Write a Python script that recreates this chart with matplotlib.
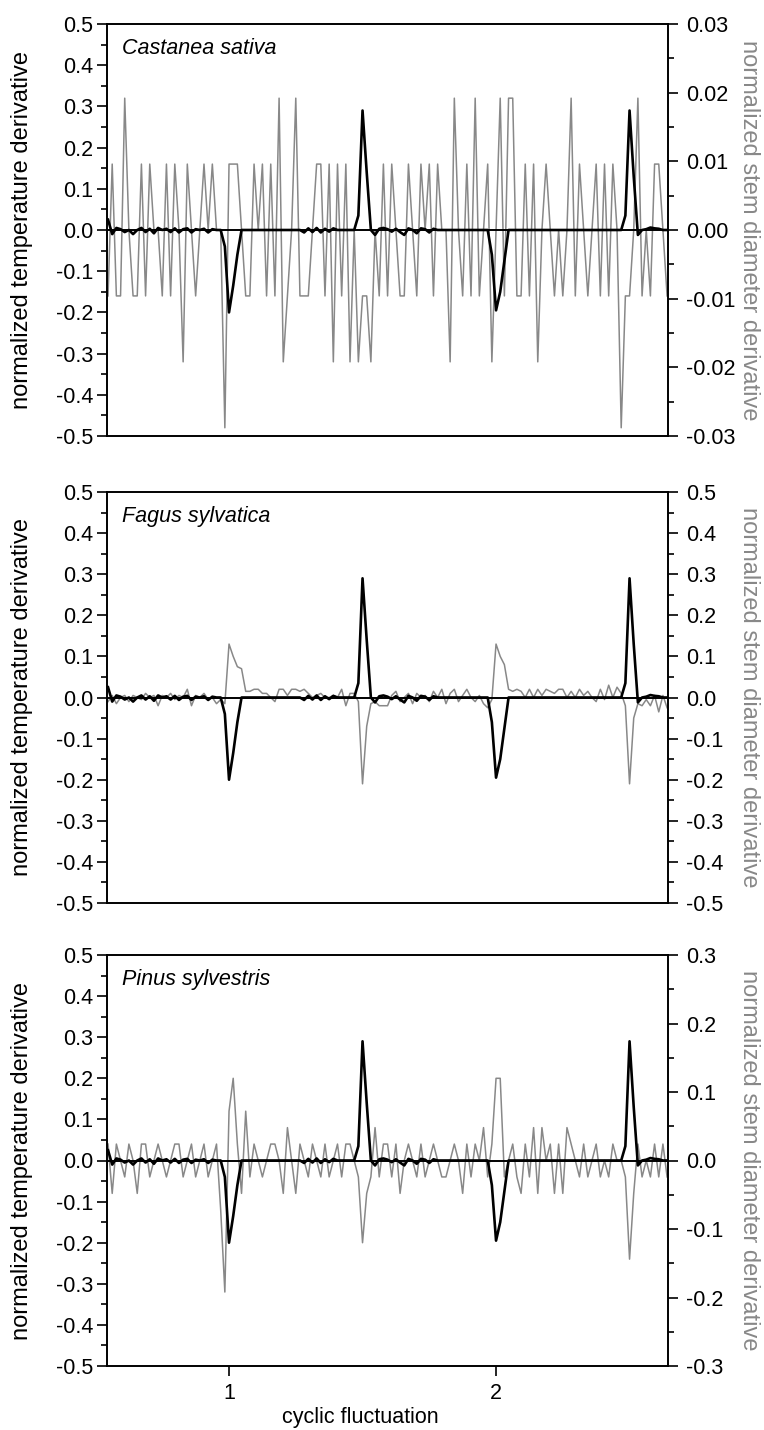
import numpy as np
import matplotlib.pyplot as plt
from matplotlib.ticker import MultipleLocator, FormatStrFormatter

plt.rcParams['font.family'] = ['Liberation Sans', 'DejaVu Sans']
plt.rcParams['axes.unicode_minus'] = False

# sampling grid: 64 samples per cycle
x_start = 0.546875
x_step = 1 / 64

# normalized temperature derivative (same in every panel)
temp_deriv = [
    0.025, -0.01, 0.005, 0.002, -0.005, 0.0, -0.01, 0.0, 0.005, -0.005,
    0.003, -0.008, 0.005, 0.0, 0.003, -0.005, 0.004, -0.006, 0.002, 0.004,
    -0.006, 0.002, 0.0, 0.003, -0.006, 0.002, 0.0, 0.0, -0.04, -0.2,
    -0.135, -0.06, 0.0, 0.0, 0.0, 0.0, 0.0, 0.0, 0.0, 0.0,
    0.0, 0.0, 0.0, 0.0, 0.0, 0.0, 0.0, -0.006, 0.004, -0.005,
    0.005, -0.006, 0.003, -0.004, 0.004, 0.0, 0.0, 0.0, 0.0, 0.0,
    0.035, 0.29, 0.14, 0.0, -0.012, 0.003, 0.005, 0.002, -0.004, 0.003,
    -0.005, -0.012, 0.004, 0.0, -0.008, 0.004, 0.002, -0.006, 0.003, 0.0,
    0.0, 0.0, 0.0, 0.0, 0.0, 0.0, 0.0, 0.0, 0.0, 0.0,
    0.0, 0.0, -0.06, -0.195, -0.15, -0.075, 0.0, 0.0, 0.0, 0.0,
    0.0, 0.0, 0.0, 0.0, 0.0, 0.0, 0.0, 0.0, 0.0, 0.0,
    0.0, 0.0, 0.0, 0.0, 0.0, 0.0, 0.0, 0.0, 0.0, 0.0,
    0.0, 0.0, 0.0, 0.0, 0.035, 0.29, 0.13, -0.012, 0.0, 0.002,
    0.006, 0.004, 0.003, 0.0, 0.0,
]

# normalized stem diameter derivative
stem_castanea = [
    -.0096, .0096, -.0096, -.0096, .0192, 0, -.0096, -.0096, .0096, -.0096,
    .0096, 0, 0, -.0096, .0096, -.0096, .0096, 0, -.0192, .0096,
    0, -.0096, 0, .0096, 0, .0096, 0, 0, -.0288, .0096,
    .0096, .0096, 0, -.0096, -.0096, .0096, 0, .0096, -.0096, .0096,
    -.0096, .0192, -.0192, -.0096, 0, .0192, -.0096, -.0096, -.0096, 0,
    .0096, .0096, -.0096, .0096, -.0192, .0096, -.0096, .0096, -.0192, 0,
    -.0192, -.0096, -.0096, -.0192, 0, -.0096, .0096, -.0096, .0096, 0,
    -.0096, -.0096, .0096, 0, -.0096, .0096, 0, .0096, -.0096, .0096,
    0, 0, -.0192, .0192, 0, -.0096, .0096, -.0096, .0192, -.0096,
    0, .0096, -.0192, 0, .0192, -.0096, .0192, .0192, -.0096, -.0096,
    .0096, -.0096, .0096, -.0192, 0, .0096, 0, -.0096, 0, -.0096,
    0, .0192, -.0096, .0096, 0, -.0096, 0, .0096, -.0096, .0096,
    -.0096, .0096, 0, -.0288, -.0096, -.0096, 0, .0192, -.0096, 0,
    -.0096, .0096, .0096, 0, -.0096,
]

stem_fagus = [
    -0.01, 0.005, -0.015, 0.0, 0.005, -0.01, 0.005, 0.0, -0.005, 0.01,
    0.0, 0.005, -0.02, 0.005, 0.0, 0.01, -0.005, 0.005, 0.0, 0.02,
    -0.02, 0.005, 0.0, 0.01, -0.005, 0.0, -0.015, -0.005, -0.015, 0.13,
    0.1, 0.075, 0.07, 0.015, 0.015, 0.02, 0.02, 0.01, 0.01, 0.0,
    -0.01, 0.02, 0.02, 0.005, 0.02, 0.02, 0.015, 0.02, 0.01, 0.0,
    0.005, 0.01, 0.0, 0.0, 0.005, 0.0, 0.02, -0.02, 0.01, 0.01,
    -0.01, -0.21, -0.07, -0.015, -0.01, -0.02, -0.02, -0.02, 0.005, 0.015,
    -0.01, 0.0, 0.01, -0.015, 0.01, 0.0, 0.005, -0.01, 0.015, 0.0,
    0.02, -0.015, 0.01, 0.02, -0.01, 0.005, 0.02, 0.0, -0.01, 0.005,
    -0.015, -0.025, -0.005, 0.13, 0.1, 0.08, 0.02, 0.015, 0.02, 0.015,
    0.0, 0.02, 0.0, 0.02, 0.005, 0.02, 0.015, 0.01, 0.02, 0.02,
    0.0, 0.015, 0.0, 0.02, 0.005, 0.015, 0.0, -0.01, 0.02, -0.005,
    0.03, 0.0, 0.025, 0.01, -0.02, -0.21, -0.05, -0.015, -0.02, -0.005,
    -0.02, 0.005, -0.035, 0.005, -0.025,
]

stem_pinus = [
    .024, -.048, .024, 0, -.024, .024, 0, -.048, .024, .024,
    -.024, 0, .024, 0, -.024, 0, .024, .024, -.024, 0,
    .024, -.024, 0, .024, -.024, 0, .024, -.072, -.192, .072,
    .12, .024, -.048, .072, -.024, .024, 0, -.024, 0, .024,
    .024, 0, -.048, .048, 0, -.048, .024, 0, -.024, .024,
    0, -.024, .024, -.024, 0, .024, -.024, .024, .024, 0,
    -.024, -.12, -.048, -.024, .048, -.024, .024, .024, -.024, .024,
    -.048, 0, .024, 0, -.024, .024, -.024, 0, .024, 0,
    -.024, -.024, 0, .024, 0, -.048, .024, -.024, .024, 0,
    .048, -.024, .024, .12, .12, -.024, 0, .024, -.024, -.048,
    .024, -.024, .048, -.048, .048, 0, .024, -.048, .024, -.048,
    .048, .024, 0, -.024, .024, -.024, 0, .024, -.024, 0,
    -.024, .024, 0, 0, -.024, -.144, -.048, .024, -.024, 0,
    -.024, .024, -.024, .024, -.024,
]

species = ['Castanea sativa', 'Fagus sylvatica', 'Pinus sylvestris']
stem_series = [stem_castanea, stem_fagus, stem_pinus]
right_lims = [0.03, 0.5, 0.3]
right_major = [0.01, 0.1, 0.1]
right_minor = [0.005, 0.05, 0.05]
right_fmt = ['%.2f', '%.1f', '%.1f']
x_ticks = [1, 2]

gray = '#888888'
W, H = 764, 1430
x = x_start + np.arange(len(temp_deriv)) * x_step

fig = plt.figure(figsize=(W / 100, H / 100), dpi=100)

# panel boxes in pixels (top, bottom)
boxes = [(24, 436), (492, 903), (955, 1366)]
ax_left, ax_right = 107, 668

for k, (top, bot) in enumerate(boxes):
    ax = fig.add_axes([ax_left / W, 1 - bot / H, (ax_right - ax_left) / W, (bot - top) / H])
    ax2 = ax.twinx()

    ax2.plot(x, stem_series[k], color=gray, lw=1.1)
    ax.axhline(0, color='black', lw=1.4)
    ax.plot(x, temp_deriv, color='black', lw=1.9)

    ax.set_zorder(ax2.get_zorder() + 1)
    ax.patch.set_visible(False)

    ax.set_xlim(0.543, 2.644)
    ax.set_ylim(-0.5, 0.5)
    ax2.set_ylim(-right_lims[k], right_lims[k])

    ax.yaxis.set_major_locator(MultipleLocator(0.1))
    ax.yaxis.set_minor_locator(MultipleLocator(0.05))
    ax.yaxis.set_major_formatter(FormatStrFormatter('%.1f'))
    ax2.yaxis.set_major_locator(MultipleLocator(right_major[k]))
    ax2.yaxis.set_minor_locator(MultipleLocator(right_minor[k]))
    ax2.yaxis.set_major_formatter(FormatStrFormatter(right_fmt[k]))

    ax.tick_params(axis='y', which='major', direction='out', length=7, width=1.2, labelsize=15.5, pad=3)
    ax.tick_params(axis='y', which='minor', direction='out', length=4, width=1.2)
    ax2.tick_params(axis='y', which='major', direction='out', length=7, width=1.2, labelsize=15.5, pad=6)
    ax2.tick_params(axis='y', which='minor', direction='out', length=4, width=1.2)

    ax.set_xticks(x_ticks)
    if k < 2:
        ax.tick_params(axis='x', bottom=False, labelbottom=False)
    else:
        ax.tick_params(axis='x', direction='out', length=7, width=1.2, labelsize=15.5, pad=5)
    ax2.tick_params(axis='x', bottom=False, labelbottom=False)

    for a in (ax, ax2):
        for s in a.spines.values():
            s.set_linewidth(1.2)

    ax.text(0.027, 0.94, species[k], transform=ax.transAxes, style='italic',
            fontsize=15.5, va='center', ha='left')

    yc = 1 - (top + bot) / 2 / H
    fig.text(22 / W, yc, 'normalized temperature derivative', rotation=90,
             va='center', ha='center', fontsize=17)
    fig.text(749 / W, yc, 'normalized stem diameter derivative', rotation=270,
             va='center', ha='center', fontsize=17, color=gray)

fig.text(360 / W, 1 - 1418 / H, 'cyclic fluctuation', ha='center', va='center', fontsize=15.5)

fig.savefig('out.png', dpi=100)
